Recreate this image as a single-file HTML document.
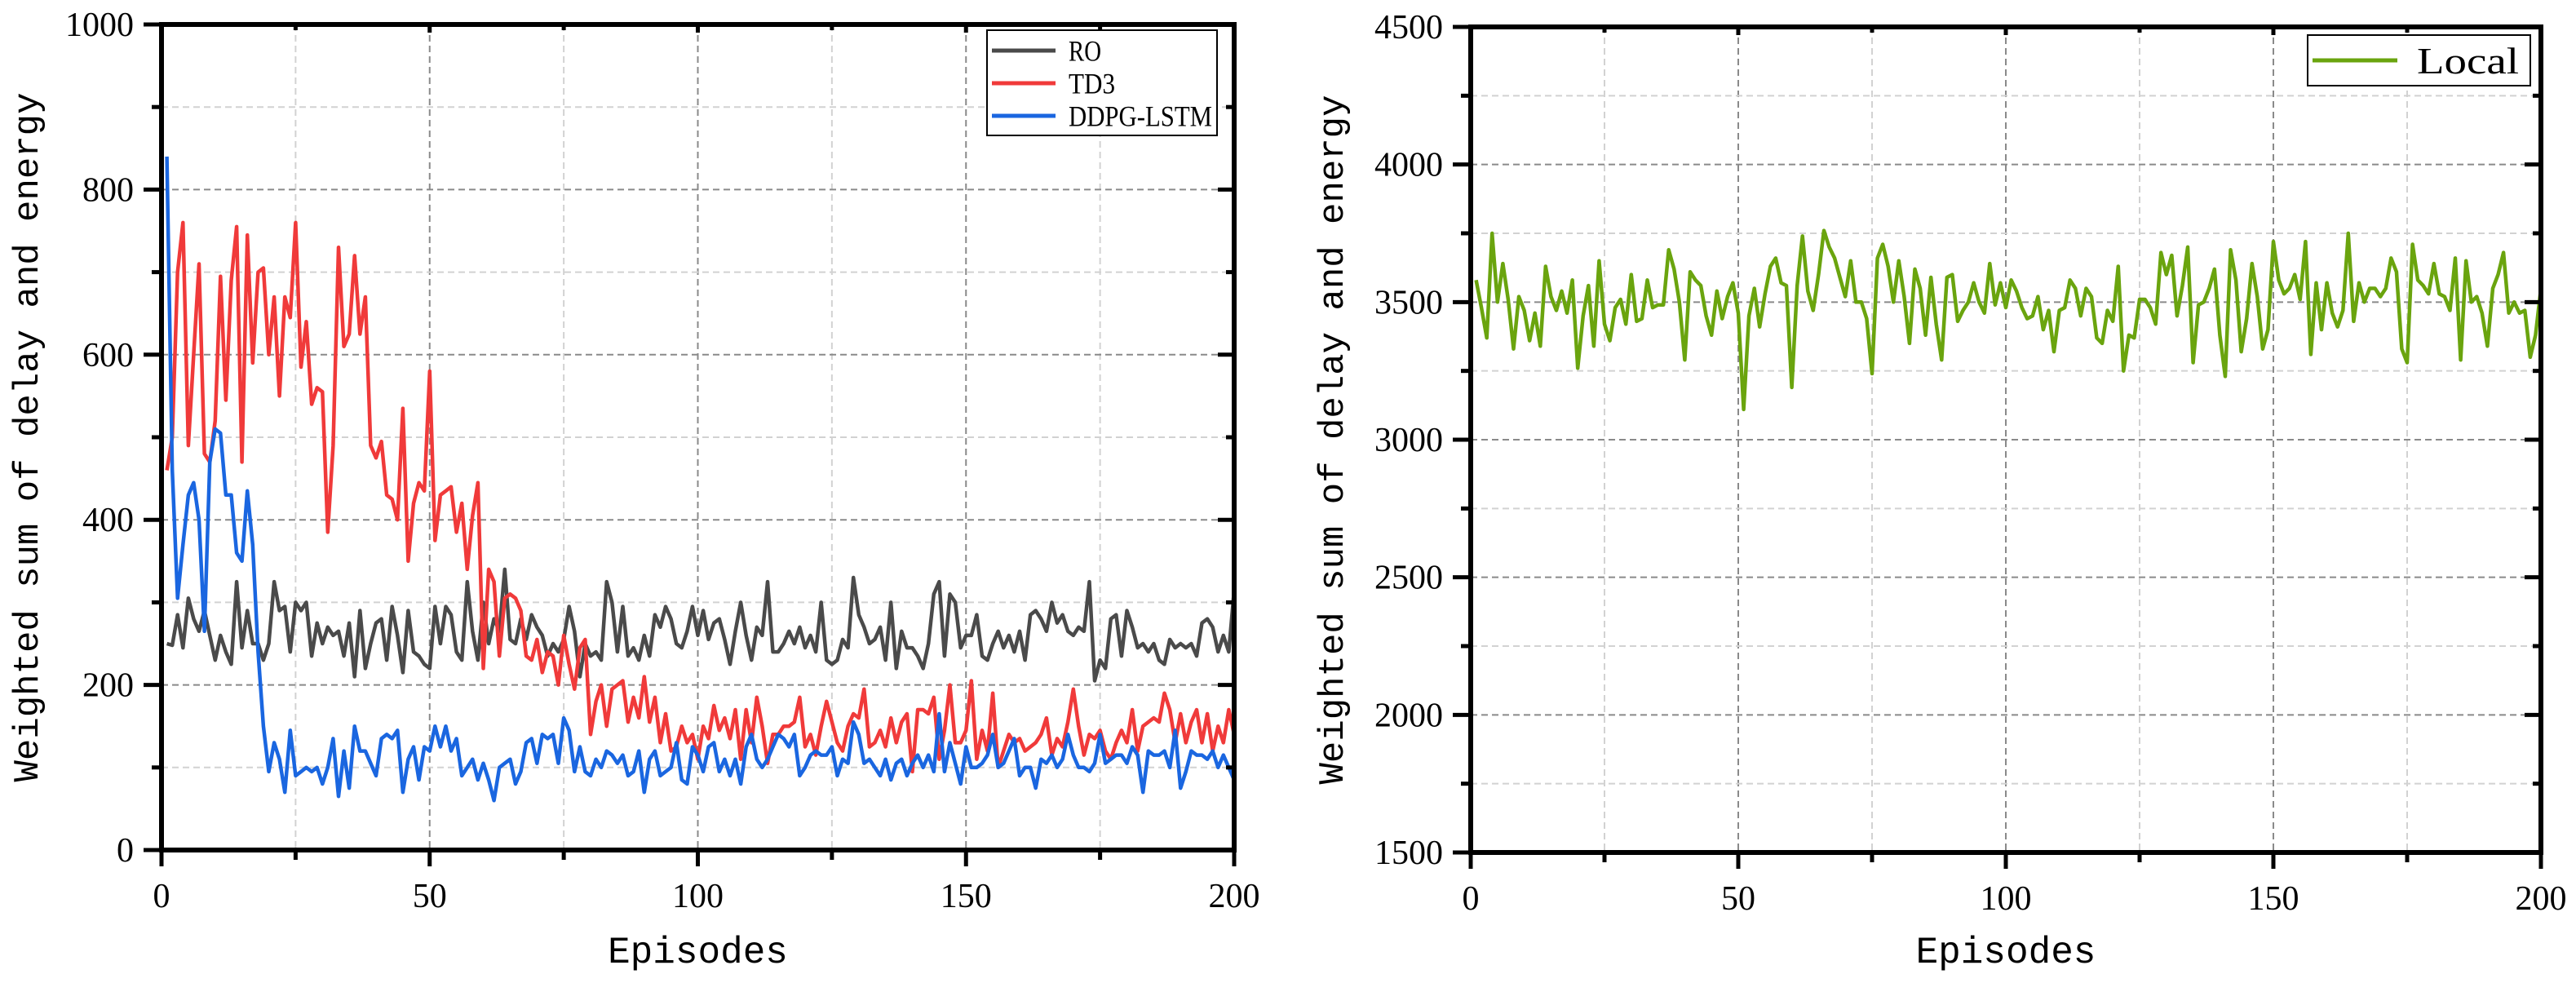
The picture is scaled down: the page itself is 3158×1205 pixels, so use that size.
<!DOCTYPE html>
<html><head><meta charset="utf-8">
<style>
html,body{margin:0;padding:0;background:#fff;}
svg{display:block;}
text{font-family:"Liberation Serif",serif;fill:#000;}
.mono{font-family:"Liberation Mono",monospace;}
</style></head>
<body>
<svg id="chart" width="3158" height="1205" viewBox="0 0 3158 1205" xmlns="http://www.w3.org/2000/svg"></svg>
<script>
const episodes = Array.from({length:200},(_,i)=>i+1);
const roValues = [250,248,285,245,305,280,265,290,260,230,260,240,225,325,245,290,250,250,230,250,325,290,295,240,300,290,300,235,275,250,270,260,265,235,275,210,290,220,250,275,280,230,295,260,215,290,240,235,225,220,295,250,295,285,240,230,325,265,230,300,250,280,265,340,255,250,280,255,285,270,260,235,250,240,255,295,265,210,250,235,240,230,325,300,240,295,235,245,230,260,235,285,270,295,280,250,245,265,295,260,290,255,275,280,255,225,265,300,260,230,270,260,325,240,240,250,265,250,270,245,260,240,300,230,225,230,255,245,330,285,270,250,255,270,230,300,220,265,245,245,235,220,250,310,325,235,310,300,245,260,260,285,235,230,250,265,245,260,240,265,230,285,290,280,265,300,275,285,265,260,270,265,325,205,230,220,280,285,235,290,270,245,250,240,250,230,225,255,245,250,245,250,235,275,280,270,240,260,240,315];
const td3Values = [460,500,700,760,490,600,710,480,470,520,695,545,690,755,470,745,590,700,705,600,670,550,670,645,760,585,640,540,560,555,385,490,730,610,625,720,625,670,490,475,495,430,425,400,535,350,420,445,435,580,375,430,435,440,385,420,340,405,445,220,340,325,235,305,310,305,290,235,230,255,215,240,235,200,260,225,195,245,255,140,180,200,150,195,200,205,155,185,160,210,155,185,130,165,120,125,150,130,140,110,150,135,175,145,160,135,170,110,170,130,185,150,105,140,140,150,150,155,185,125,140,115,150,180,155,130,120,150,165,160,195,125,130,145,125,160,130,155,165,95,170,170,165,185,110,145,200,130,130,145,205,110,145,120,190,100,120,140,130,135,120,125,130,140,160,115,135,125,155,195,150,115,140,135,145,120,110,130,145,130,170,120,150,155,160,155,190,170,130,165,130,155,170,130,165,120,150,130,170,140];
const ddpgValues = [840,460,305,370,430,445,400,265,470,510,505,430,430,360,350,435,370,240,150,95,130,110,70,145,90,95,100,95,100,80,100,135,65,120,75,150,120,120,105,90,135,140,135,145,70,110,125,85,125,120,150,125,150,120,135,90,100,110,85,105,85,60,100,105,110,80,95,130,135,105,140,135,140,105,160,145,95,125,95,90,110,100,120,115,105,115,90,95,120,70,110,120,90,95,100,130,85,80,125,115,95,125,130,95,110,90,110,80,125,140,110,100,110,125,140,135,125,140,90,100,115,120,115,115,125,90,110,105,155,140,105,110,100,90,110,85,105,110,90,105,115,100,115,95,165,95,130,105,80,125,100,100,105,115,140,100,105,120,135,90,100,100,75,110,105,115,100,110,140,115,100,100,95,105,140,105,110,115,115,105,125,115,70,120,115,115,120,100,145,75,95,120,115,115,110,120,100,115,100,85];
const localValues = [3580,3480,3370,3750,3500,3640,3510,3330,3520,3470,3360,3460,3340,3630,3520,3470,3540,3460,3580,3260,3450,3560,3340,3650,3420,3360,3480,3510,3420,3600,3430,3440,3580,3480,3490,3490,3690,3620,3500,3290,3610,3580,3560,3450,3380,3540,3440,3520,3570,3460,3110,3450,3550,3410,3530,3630,3660,3570,3560,3190,3560,3740,3540,3470,3600,3760,3700,3660,3590,3520,3650,3500,3500,3440,3240,3660,3710,3630,3500,3650,3520,3350,3620,3550,3380,3590,3420,3290,3590,3600,3430,3470,3500,3570,3500,3460,3640,3490,3570,3480,3580,3540,3480,3440,3450,3520,3400,3470,3320,3470,3480,3580,3550,3450,3550,3520,3370,3350,3470,3430,3630,3250,3380,3370,3510,3510,3480,3420,3680,3600,3670,3450,3560,3700,3280,3490,3500,3550,3620,3380,3230,3690,3580,3320,3440,3640,3520,3330,3400,3720,3580,3530,3550,3600,3510,3720,3310,3570,3400,3570,3460,3410,3470,3750,3430,3570,3500,3550,3550,3520,3550,3660,3610,3330,3280,3710,3580,3560,3530,3640,3530,3520,3470,3660,3290,3650,3500,3520,3460,3340,3550,3600,3680,3460,3500,3460,3470,3300,3380,3550];
const xTicks = [0,50,100,150,200];
const leftYTicks = [0,200,400,600,800,1000];
const rightYTicks = [1500,2000,2500,3000,3500,4000,4500];

const NS="http://www.w3.org/2000/svg";
const svg=document.getElementById('chart');
function mk(tag,attrs,parent){const e=document.createElementNS(NS,tag);for(const k in attrs)e.setAttribute(k,attrs[k]);(parent||svg).appendChild(e);return e;}

function panel(P){
  const g=mk('g',{});
  
  
  const sx=v=>P.x0+(v-0)/(200-0)*(P.x1-P.x0);
  const sy=v=>P.y0-(v-P.ymin)/(P.ymax-P.ymin)*(P.y0-P.y1);
  const n=Math.round((P.ymax-P.ymin)/P.minor);
  const grid=mk('g',{},g);
  
  
  for(let v=25;v<200;v+=25){
    const major=v%50===0;
    mk('line',{x1:sx(v),x2:sx(v),y1:P.y1,y2:P.y0,stroke:major?'#8a8a8a':'#d2d2d2','stroke-width':2,'stroke-dasharray':'8,5'},grid);
  }
  for(let i=1;i<n;i++){
    const v=P.ymin+i*P.minor; const major=i%2===0;
    mk('line',{x1:P.x0,x2:P.x1,y1:sy(v),y2:sy(v),stroke:major?'#8a8a8a':'#d2d2d2','stroke-width':2,'stroke-dasharray':'8,5'},grid);
  }
  P.series.forEach(s=>{
    const d=episodes.map((e,i)=>(i?'L':'M')+sx(e).toFixed(1)+','+sy(s.vals[i]).toFixed(1)).join('');
    const p=mk('path',{d:d,fill:'none',stroke:s.color,'stroke-width':4.5,'stroke-linejoin':'round'},g);
    
    
  });
  const fr=mk('rect',{x:P.x0,y:P.y1,width:P.x1-P.x0,height:P.y0-P.y1,fill:'none',stroke:'#000','stroke-width':6},g);
  
  
  for(let v=0;v<=200;v+=25){
    const major=v%50===0;
    mk('line',{x1:sx(v),x2:sx(v),y1:P.y0,y2:P.y0+(major?20:12),stroke:'#000','stroke-width':5},g);
    mk('line',{x1:sx(v),x2:sx(v),y1:P.y1,y2:P.y1+(major?10:7),stroke:'#000','stroke-width':5},g);
  }
  xTicks.forEach(v=>{
    const t=mk('text',{x:sx(v),y:P.y0+70,'font-size':42,'text-anchor':'middle'},g);
    t.textContent=v;
    
    
  });
  for(let i=0;i<=n;i++){
    const v=P.ymin+i*P.minor; const major=i%2===0;
    mk('line',{x1:P.x0-(major?22:12),x2:P.x0,y1:sy(v),y2:sy(v),stroke:'#000','stroke-width':5},g);
    mk('line',{x1:P.x1-(major?20:10),x2:P.x1,y1:sy(v),y2:sy(v),stroke:'#000','stroke-width':5},g);
  }
  P.yTicks.forEach(v=>{
    const t=mk('text',{x:P.x0-34,y:sy(v)+14,'font-size':42,'text-anchor':'end'},g);
    t.textContent=v;
    
    
  });
  const xt=mk('text',{x:(P.x0+P.x1)/2,y:1180,'font-size':46,'text-anchor':'middle',class:'mono'},g);
  xt.textContent='Episodes';
  
  
  const yt=mk('text',{x:0,y:0,'font-size':44,'text-anchor':'middle',class:'mono',transform:`translate(${P.ytx},${(P.y0+P.y1)/2}) rotate(-90)`},g);
  yt.textContent='Weighted sum of delay and energy';
  
  
  const L=P.legend;
  const lg=mk('g',{},g);
  
  
  mk('rect',{x:L.x,y:L.y,width:L.w,height:L.h,fill:'#fff',stroke:'#000','stroke-width':2},lg);
  P.series.forEach((s,i)=>{
    const yy=L.y+L.first+i*L.gap;
    const e=mk('g',{},lg);
    
    
    mk('line',{x1:L.x+6,x2:L.x+L.lineLen,y1:yy,y2:yy,stroke:s.color,'stroke-width':5},e);
    const t=mk('text',{x:L.x+L.lineLen+L.pad,y:yy+L.fs*0.35,'font-size':L.fs,textLength:s.tl,lengthAdjust:'spacingAndGlyphs'},e);
    t.textContent=s.label;
  });
}

panel({name:'left-chart',x0:198,x1:1513,y0:1042,y1:30,ymin:0,ymax:1000,minor:100,yTicks:leftYTicks,ytx:46,
  series:[{id:'line-ro',label:'RO',color:'#4a4a4a',vals:roValues,tl:40},
          {id:'line-td3',label:'TD3',color:'#f03a3a',vals:td3Values,tl:57},
          {id:'line-ddpg-lstm',label:'DDPG-LSTM',color:'#1a66e0',vals:ddpgValues,tl:176}],
  legend:{x:1210,y:37,w:282,h:129,first:25,gap:40,lineLen:84,pad:16,fs:36}});
panel({name:'right-chart',x0:1803,x1:3115,y0:1045,y1:33,ymin:1500,ymax:4500,minor:250,yTicks:rightYTicks,ytx:1646,
  series:[{id:'line-local',label:'Local',color:'#6aa40e',vals:localValues,tl:125}],
  legend:{x:2829,y:43,w:273,h:62,first:31,gap:40,lineLen:110,pad:24,fs:46}});
</script>
</body></html>
